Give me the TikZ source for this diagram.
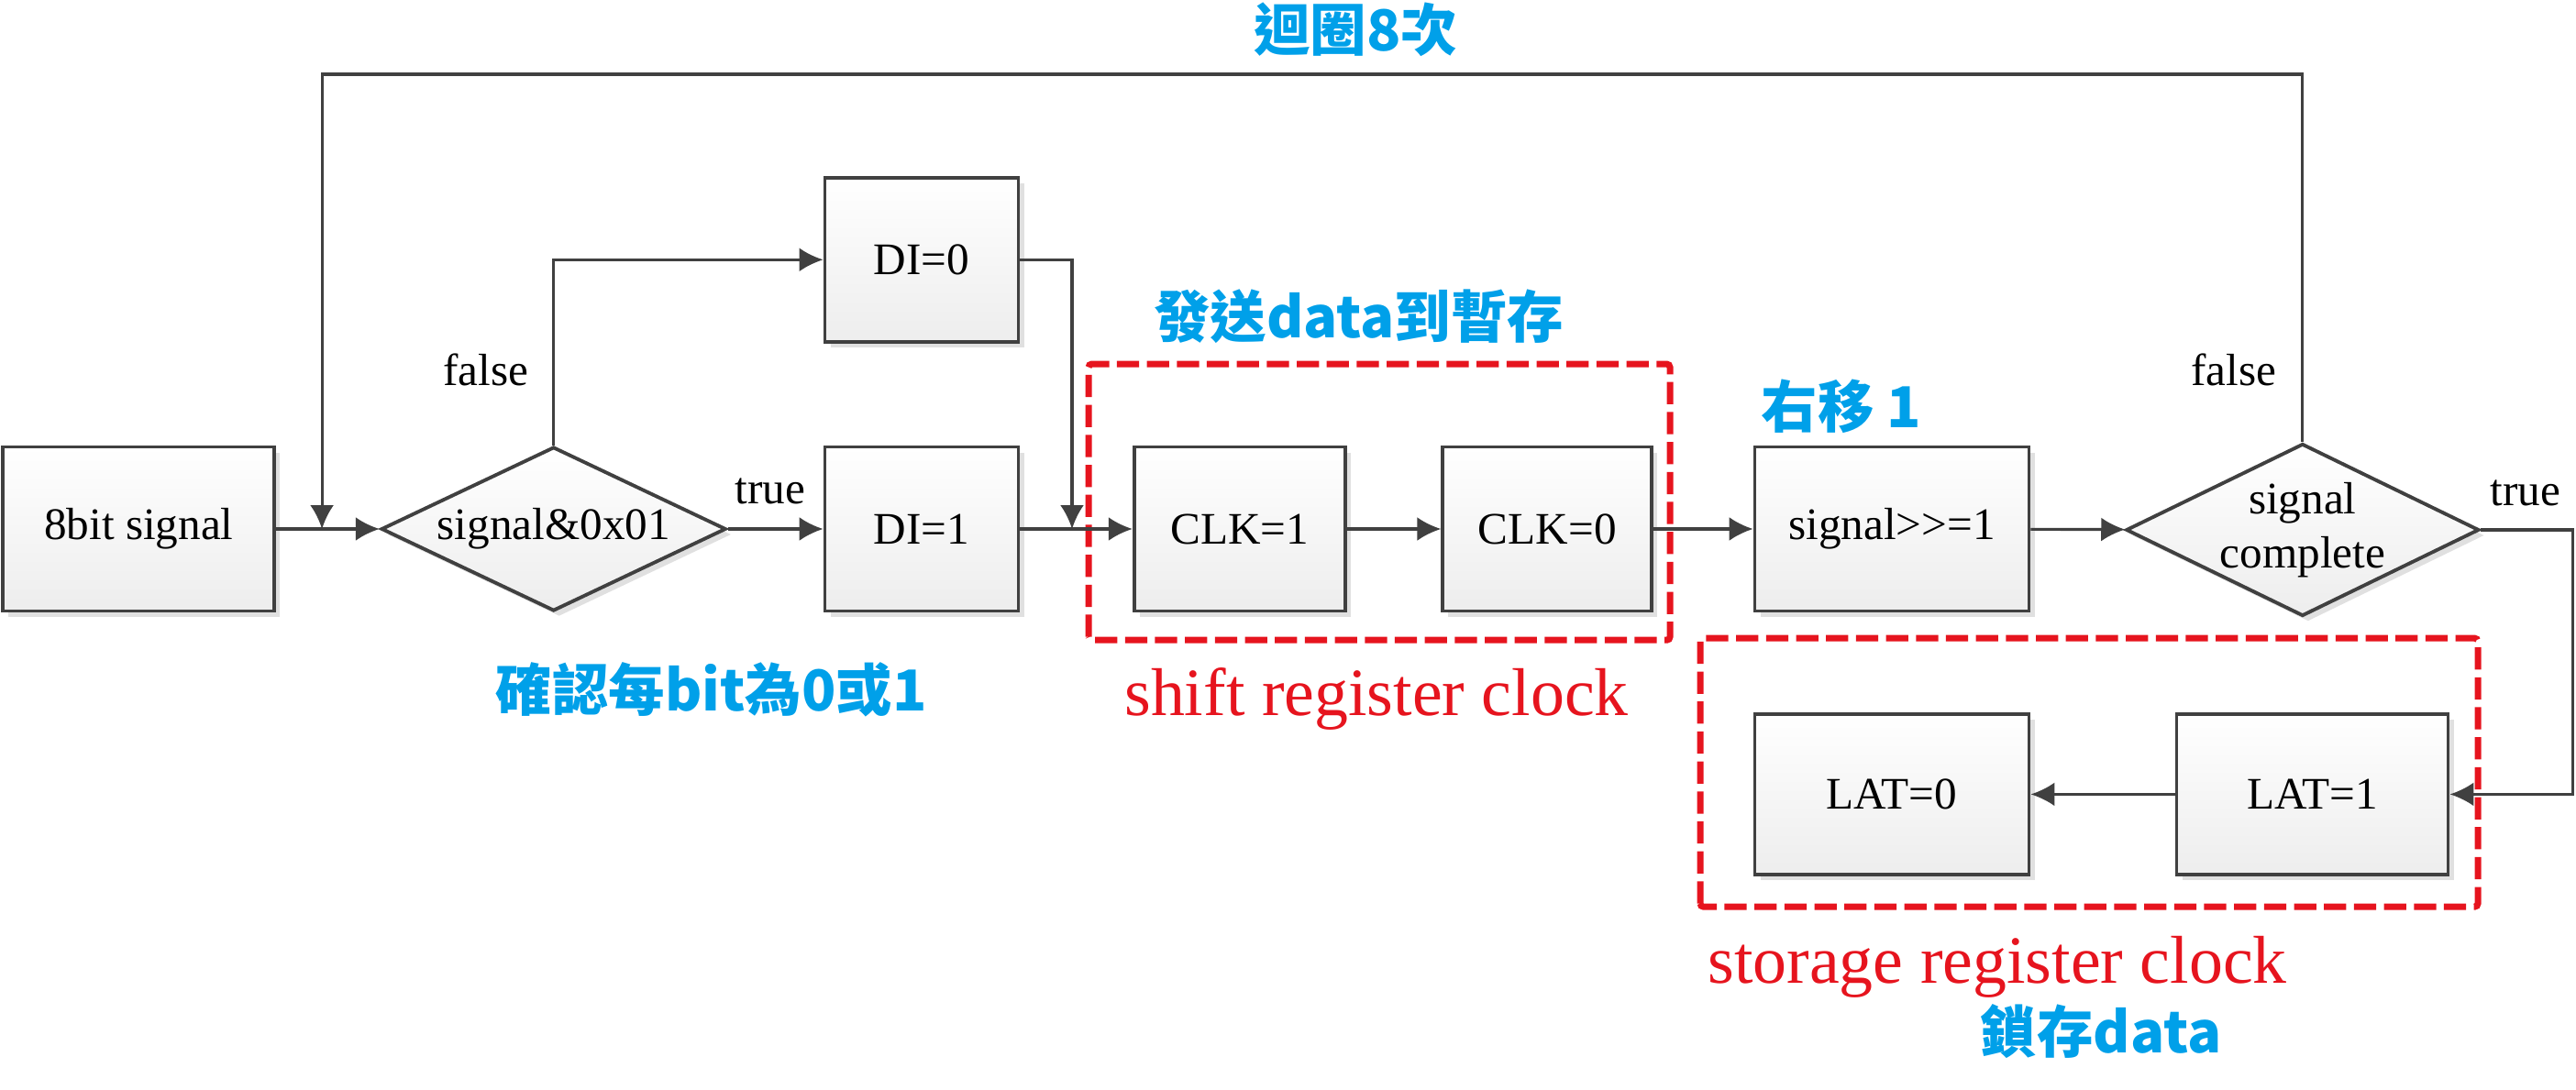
\documentclass[tikz,border=0pt]{standalone}
\usepackage{fontspec}
\setmainfont{Liberation Serif}
\newfontfamily\cjk{Noto Sans CJK TC}
\usetikzlibrary{shapes.geometric,arrows.meta,shadows}
\definecolor{lineg}{RGB}{64,64,64}
\definecolor{noteblue}{RGB}{0,160,233}
\definecolor{notered}{RGB}{230,20,30}
\begin{document}
\begin{tikzpicture}[>={Latex[length=2.6mm,width=2.6mm]},
		line width=0.9pt,
		box/.style={draw=lineg, line width=1.1pt, top color=white, bottom color=black!7,
			minimum height=1.79cm, inner sep=0pt, font=\rmfamily\fontsize{14}{16}\selectfont,
			drop shadow={shadow xshift=0.6mm, shadow yshift=-0.6mm, fill=black!12, opacity=1}},
		decision/.style={box, diamond, aspect=2.1, align=center, font=\rmfamily\fontsize{14}{16.6}\selectfont},
		note/.style={text=noteblue, font=\cjk\bfseries\fontsize{17.5}{20}\selectfont, inner sep=0pt},
		redtext/.style={text=notered, font=\rmfamily\fontsize{21}{24}\selectfont, inner sep=0pt},
		label/.style={font=\rmfamily\fontsize{14}{16}\selectfont, inner sep=0pt},
		dashbox/.style={draw=notered, line width=2pt, dash pattern=on 6.9pt off 2.4pt, rounded corners=1pt}]
		\useasboundingbox (0, 0) rectangle (28.09, 11.88);
		\node[box, minimum width=2.96cm] (sig) at (1.514, 6.11) {8bit signal};
		\node[decision, minimum width=3.76cm, minimum height=1.79cm] (chk) at (6.037, 6.11) {signal\&0x01};
		\node[box, minimum width=2.11cm] (di0) at (10.05, 9.047) {DI=0};
		\node[box, minimum width=2.11cm] (di1) at (10.05, 6.11) {DI=1};
		\node[box, minimum width=2.3cm] (clk1) at (13.517, 6.11) {CLK=1};
		\node[box, minimum width=2.28cm] (clk0) at (16.872, 6.11) {CLK=0};
		\node[box, minimum width=2.99cm] (shr) at (20.63, 6.11) {signal>{}>=1};
		\node[decision, inner ysep=-0.06cm, minimum width=3.85cm, minimum height=1.88cm] (done) at (25.108, 6.10) {signal\\complete};
		\node[box, minimum width=2.96cm, minimum height=1.75cm] (lat1) at (25.215, 3.216) {LAT=1};
		\node[box, minimum width=2.99cm, minimum height=1.75cm] (lat0) at (20.63, 3.216) {LAT=0};

		\draw[dashbox] (11.87, 4.898) rectangle (18.21, 7.909);
		\draw[dashbox] (18.54, 1.989) rectangle (27.02, 4.918);

		\draw[lineg, ->] (sig) -- (chk);
		\draw[lineg, ->] (chk) -- (di1);
		\draw[lineg, ->] (chk.north) |- (di0.west);
		\coordinate (jn) at (11.69, 6.11);
		\draw[lineg, ->] (di0.east) -| (jn);
		\draw[lineg, ->] (di1) -- (clk1);
		\draw[lineg, ->] (clk1) -- (clk0);
		\draw[lineg, ->] (clk0) -- (shr);
		\draw[lineg, ->] (shr) -- (done);
		\draw[lineg, ->] (done.north) |- (3.511, 11.07) coordinate (lp) -- (lp |- sig.east);
		\draw[lineg, ->] (done.east) -- ++(1.0, 0) |- (lat1.east);
		\draw[lineg, ->] (lat1) -- (lat0);

		\node[label] (f1) at (5.30, 7.85) {false};
		\node[label] (t1) at (8.40, 6.52) {true};
		\node[label] (f2) at (24.36, 7.85) {false};
		\node[label] (t2) at (27.54, 6.50) {true};

		\node[note] (loopnote) at (14.78, 11.555) {迴圈8次};
		\node[note] (chknote) at (7.757, 4.353) {確認每bit為0或1};
		\node[note] (sendnote) at (14.816, 8.429) {發送data到暫存};
		\node[note] (shrnote) at (20.08, 7.444) {右移 1};
		\node[note] (latnote) at (22.91, 0.627) {鎖存data};
		\node[redtext] (shiftclk) at (15.01, 4.26) {shift register clock};
		\node[redtext] (storeclk) at (21.78, 1.33) {storage register clock};
\end{tikzpicture}
\end{document}
